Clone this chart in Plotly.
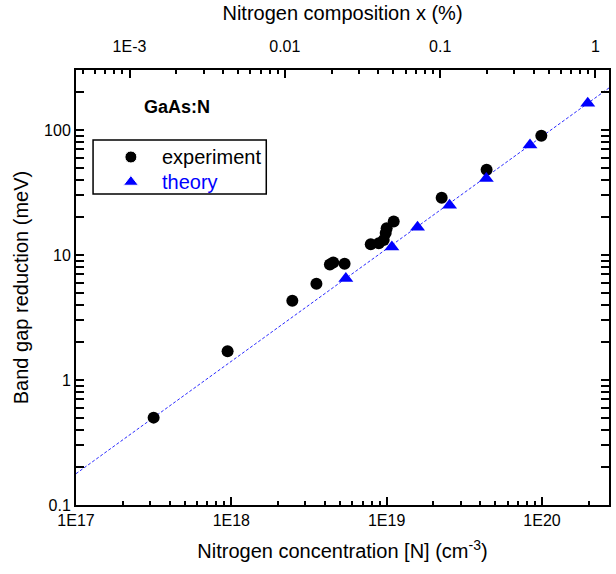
import plotly.graph_objects as go
import numpy as np

# Data
exp_x = [3.16e17, 9.46e17, 2.47e18, 3.53e18, 4.31e18, 4.53e18, 5.36e18, 7.9e18, 8.9e18,
         9.57e18, 9.86e18, 1.0e19, 1.11e19, 2.26e19, 4.40e19, 9.9e19]
exp_y = [0.5, 1.7, 4.3, 5.9, 8.4, 8.7, 8.5, 12.2, 12.4, 13.2, 15.0, 16.4, 18.5,
         28.7, 48.0, 90.0]
theo_x = [5.46e18, 1.08e19, 1.58e19, 2.54e19, 4.38e19, 8.37e19, 1.97e20]
theo_y = [6.5, 11.6, 16.7, 25.0, 41.0, 76.0, 164.0]
fit_x = [1e17, 2.7e20]
fit_y = [0.178, 217.0]

x_ticks = [1e17, 1e18, 1e19, 1e20]
x_ticktext = ["1E17", "1E18", "1E19", "1E20"]
y_ticks = [0.1, 1, 10, 100]
y_ticktext = ["0.1", "1", "10", "100"]
top_ticks = [1e-3, 0.01, 0.1, 1]
top_ticktext = ["1E-3", "0.01", "0.1", "1"]
N_full = 2.21e22  # atoms per cm^3 for x = 100 %

legend_names = ["experiment", "theory"]
legend_colors = ["black", "#0000ff"]
legend_symbols = ["circle", "triangle-up"]

font = "Liberation Sans, Arial, sans-serif"
xr = [17, np.log10(2.7e20)]
yr = [-1, 2.48]
x2r = [xr[0] - np.log10(N_full / 100), xr[1] - np.log10(N_full / 100)]


def minor_vals(e0, e1):
    return [k * 10.0 ** e for e in range(e0, e1 + 1) for k in range(2, 10)]


fig = go.Figure()
fig.add_trace(go.Scatter(x=fit_x, y=fit_y, mode="lines",
                         line=dict(color="#2a2aff", width=1, dash="3px,2px"),
                         showlegend=False, hoverinfo="skip"))
fig.add_trace(go.Scatter(x=exp_x, y=exp_y, mode="markers", name="experiment",
                         marker=dict(symbol="circle", size=12, color="black"),
                         showlegend=False))
fig.add_trace(go.Scatter(x=theo_x, y=theo_y, mode="markers", name="theory",
                         marker=dict(symbol="triangle-up", size=13, color="#0000ff"),
                         showlegend=False))
# invisible trace carrying the top (composition) axis
fig.add_trace(go.Scatter(x=[v / N_full * 100 for v in fit_x], y=fit_y, xaxis="x2",
                         mode="markers", marker=dict(size=1, opacity=0),
                         showlegend=False, hoverinfo="skip"))

# legend box drawn by hand (layout positions in plot-area fractions)
leg_x0, leg_x1, leg_y0, leg_y1 = 0.032, 0.357, 0.715, 0.839
leg_sym_x, leg_txt_x = 0.103, 0.157
leg_rows = [0.800, 0.7425]
fig.add_trace(go.Scatter(x=[leg_sym_x] * 2, y=leg_rows, xaxis="x3", yaxis="y3",
                         mode="markers", showlegend=False, hoverinfo="skip",
                         marker=dict(symbol=legend_symbols, color=legend_colors,
                                     size=[12, 13], opacity=1)))

axis_common = dict(showline=True, linecolor="black", linewidth=2, ticks="inside",
                   ticklen=8, tickwidth=2, tickcolor="black", showgrid=False,
                   zeroline=False, tickfont=dict(family=font, size=16, color="black"))
minor_style = dict(ticks="inside", ticklen=4, tickwidth=1.5, tickcolor="black",
                   showgrid=False)
title_font = dict(family=font, size=20, color="black")

annotations = [dict(text="<b>GaAs:N</b>", x=0.189, y=0.915, xref="paper", yref="paper",
                    xanchor="center", yanchor="middle", showarrow=False,
                    font=dict(family=font, size=18, color="black"))]
for name, col, yy in zip(legend_names, legend_colors, leg_rows):
    annotations.append(dict(text=name, x=leg_txt_x, y=yy, xref="paper", yref="paper",
                            xanchor="left", yanchor="middle", showarrow=False,
                            font=dict(family=font, size=20, color=col)))

fig.update_layout(
    width=616, height=574,
    margin=dict(l=76, r=5, t=70, b=69),
    plot_bgcolor="white", paper_bgcolor="white",
    showlegend=False,
    xaxis=dict(type="log", range=xr, tickvals=x_ticks, ticktext=x_ticktext,
               minor=dict(tickvals=minor_vals(17, 20), **minor_style),
               title=dict(text="Nitrogen concentration [N] (cm<sup>-3</sup>)",
                          font=title_font, standoff=16),
               **axis_common),
    xaxis2=dict(type="log", overlaying="x", side="top", range=x2r,
                tickvals=top_ticks, ticktext=top_ticktext,
                minor=dict(tickvals=minor_vals(-4, 0), **minor_style),
                ticklabelstandoff=10,
                title=dict(text="Nitrogen composition x (%)", font=title_font, standoff=12),
                **axis_common),
    yaxis=dict(type="log", range=yr, tickvals=y_ticks, ticktext=y_ticktext,
               minor=dict(tickvals=minor_vals(-1, 2), **minor_style),
               mirror="allticks",
               title=dict(text="Band gap reduction (meV)", font=title_font, standoff=10),
               **axis_common),
    xaxis3=dict(overlaying="x", range=[0, 1], visible=False, anchor="y3"),
    yaxis3=dict(overlaying="y", range=[0, 1], visible=False, anchor="x3"),
    shapes=[dict(type="rect", xref="paper", yref="paper", x0=leg_x0, x1=leg_x1,
                 y0=leg_y0, y1=leg_y1, line=dict(color="black", width=1.5),
                 fillcolor="rgba(0,0,0,0)")],
    annotations=annotations,
)
fig.write_html("out.html")
